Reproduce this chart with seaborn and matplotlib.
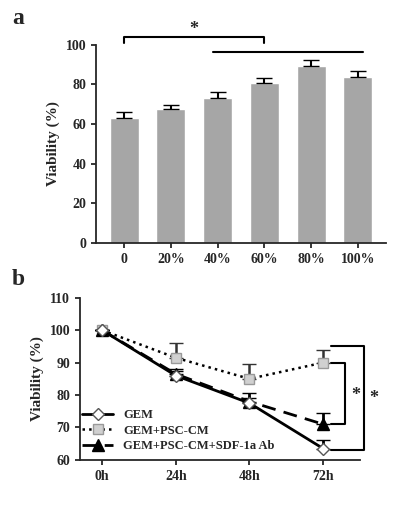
import matplotlib
matplotlib.use("Agg")
import matplotlib.pyplot as plt
from matplotlib.lines import Line2D
import seaborn as sns
import pandas as pd
import numpy as np

sns.set_style("ticks")
plt.rcParams['font.family'] = ['Liberation Serif', 'DejaVu Serif']
plt.rcParams['font.weight'] = 'bold'

conc = ["0", "20%", "40%", "60%", "80%", "100%"]
via_a = [63, 67.5, 73, 80.5, 89.5, 84]
err_a = [3, 2, 3, 3, 3, 3]

times = ["0h", "24h", "48h", "72h"]
gem = [100, 86, 77.5, 63.5]
gem_err = [0, 1.5, 1.5, 2.5]
psc = [100, 91.5, 85, 90]
psc_err = [0, 4.5, 4.5, 4]
sdf = [100, 86.5, 78, 71]
sdf_err = [0, 1.5, 2.5, 3.5]

fig = plt.figure(figsize=(4, 5.28), dpi=100)
ax = fig.add_axes([0.24, 0.54, 0.725, 0.375])
df = pd.DataFrame({"c": conc, "v": via_a})
sns.barplot(data=df, x="c", y="v", color="#a6a6a6", width=0.62, ax=ax, saturation=1)
ax.errorbar(range(6), via_a, yerr=[np.zeros(6), err_a], fmt="none", ecolor="black", capsize=6, lw=1.5)
ax.set_ylim(0, 100)
ax.set_yticks(range(0, 101, 20))
ax.set_xlim(-0.6, 5.6)
ax.set_xlabel("")
ax.set_ylabel("Viability (%)", fontsize=11, fontweight="bold")
ax.tick_params(labelsize=10, width=1.3)
for s in ["left", "bottom"]:
    ax.spines[s].set_linewidth(1.3)
sns.despine(ax=ax)
ax.plot([0, 0, 3, 3], [101, 104, 104, 101], color="black", lw=1.5, clip_on=False)
ax.text(1.5, 103.5, "*", ha="center", va="bottom", fontsize=13, fontweight="bold")
ax.plot([1.9, 5.1], [96.5, 96.5], color="black", lw=1.5, clip_on=False)
fig.text(0.03, 0.955, "a", fontsize=17, fontweight="bold")

bx = fig.add_axes([0.2, 0.129, 0.7, 0.307])
x = np.arange(4)
bx.errorbar(x, gem, yerr=[np.zeros(4), gem_err], color="black", lw=2, ls="-", marker="D",
            mfc="white", mec="#555555", ms=6, capsize=5, zorder=4)
bx.errorbar(x, psc, yerr=[np.zeros(4), psc_err], color="black", lw=1.8, ls=":", marker="s",
            mfc="#d0d0d0", mec="#999999", ms=7, capsize=5, ecolor="#333333", zorder=3)
bx.errorbar(x, sdf, yerr=[np.zeros(4), sdf_err], color="black", lw=2, ls=(0, (5, 3)), marker="^",
            mfc="black", mec="black", ms=8, capsize=5, zorder=3)
handles = [
    Line2D([], [], color="black", lw=2, ls="-", marker="D", mfc="white", mec="#555555", ms=6),
    Line2D([], [], color="black", lw=1.8, ls=":", marker="s", mfc="#d0d0d0", mec="#999999", ms=7),
    Line2D([], [], color="black", lw=2, ls=(0, (5, 3)), marker="^", mfc="black", ms=8),
]
bx.legend(handles, ["GEM", "GEM+PSC-CM", "GEM+PSC-CM+SDF-1a Ab"], loc="lower left",
          bbox_to_anchor=(-0.02, 0.0), frameon=False, fontsize=9,
          handlelength=2.5, borderaxespad=0.2, labelspacing=0.3)
bx.set_ylim(60, 110)
bx.set_yticks(range(60, 111, 10))
bx.set_xlim(-0.3, 3.5)
bx.set_xticks(x)
bx.set_xticklabels(times)
bx.set_ylabel("Viability (%)", fontsize=11, fontweight="bold")
bx.tick_params(labelsize=10, width=1.3)
for s in ["left", "bottom"]:
    bx.spines[s].set_linewidth(1.3)
sns.despine(ax=bx)
bx.plot([3.1, 3.3, 3.3, 3.1], [90, 90, 71, 71], color="black", lw=1.5, clip_on=False)
bx.text(3.38, 80, "*", fontsize=13, fontweight="bold", va="center")
bx.plot([3.1, 3.55, 3.55, 3.1], [95, 95, 63, 63], color="black", lw=1.5, clip_on=False)
bx.text(3.63, 79, "*", fontsize=13, fontweight="bold", va="center")
fig.text(0.03, 0.46, "b", fontsize=17, fontweight="bold")

fig.savefig("out.png", dpi=100)
